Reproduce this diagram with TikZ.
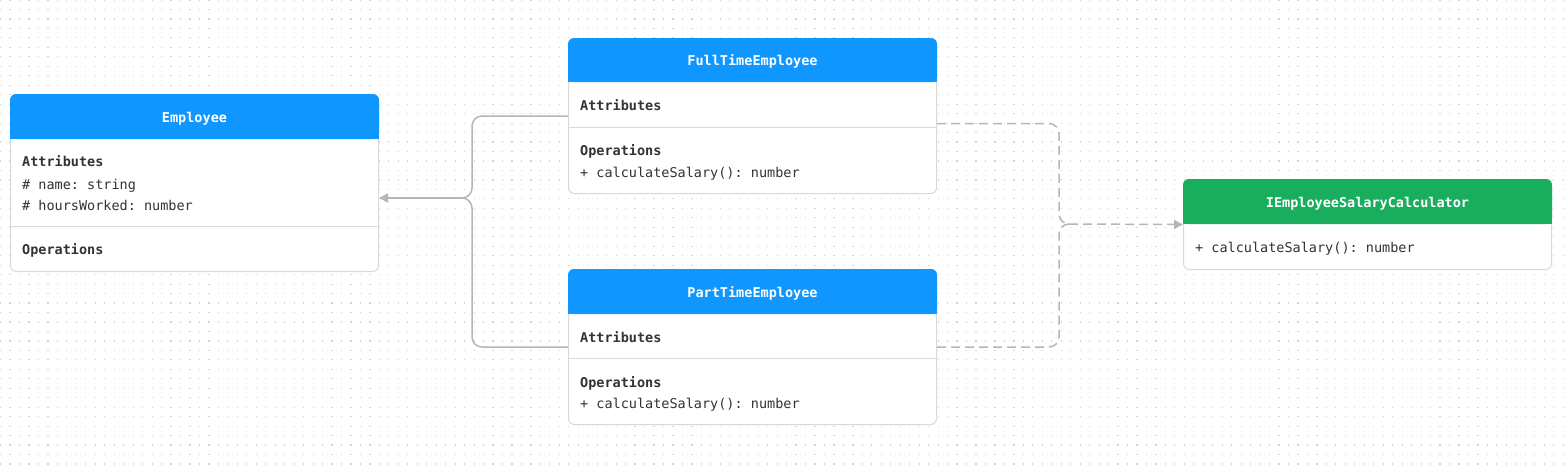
\documentclass[tikz,border=0pt]{standalone}
\usepackage{fontspec}
\setmonofont{DejaVu Sans Mono}
\usetikzlibrary{arrows.meta}
\definecolor{headblue}{RGB}{15,150,255}
\definecolor{headgreen}{RGB}{24,174,94}
\definecolor{boxline}{RGB}{217,217,217}
\definecolor{wire}{RGB}{182,182,182}
\definecolor{griddot}{RGB}{212,212,212}
\definecolor{txt}{RGB}{51,51,51}

\begin{document}
\begin{tikzpicture}[x=1pt,y=-1pt,
    classbox/.style={draw=boxline, fill=white, line width=1pt, rounded corners=6pt,
        anchor=north west, inner sep=0pt, minimum width=368pt},
    title/.style={text=white, inner sep=0pt, text height=13pt, text depth=2pt,
        font=\fontsize{13.5}{16}\selectfont\ttfamily\bfseries},
    section/.style={anchor=west, inner sep=0pt, text=txt, text height=13pt, text depth=2pt,
        font=\fontsize{13.5}{16}\selectfont\ttfamily\bfseries},
    member/.style={anchor=west, inner sep=0pt, text=txt, text height=13pt, text depth=2pt,
        font=\fontsize{13.5}{16}\selectfont\ttfamily},
    sepline/.style={draw=boxline, line width=1pt},
    dotrow/.style={draw=griddot, line width=1.2pt, dash pattern=on 1.2pt off 8.27pt},
    inherit/.style={draw=wire, line width=1.5pt, rounded corners=10pt},
    realize/.style={inherit, dash pattern=on 9pt off 5pt},
    tip/.style={-{Triangle[length=9pt,width=9pt]}}
]
    % Canvas and dotted grid
    \fill[white] (0,0) rectangle (1566,466);
    \useasboundingbox (0,0) rectangle (1566,466);
    \foreach \r in {0,...,49}
        \draw[dotrow] (0,{\r*9.47}) -- (1566,{\r*9.47});

    % Employee
    \node[classbox, minimum height=177pt] (emp) at (10,94) {};
    \fill[headblue, rounded corners=6pt] (emp.north west) rectangle ([yshift=-45pt]emp.north east);
    \fill[headblue] ([yshift=-35pt]emp.north west) rectangle ([yshift=-45pt]emp.north east);
    \node[title] (empT) at ([yshift=-22.5pt]emp.north) {Employee};
    \node[section] (empA) at (22,161) {Attributes};
    \node[member] (empA1) at (22,184) {\# name: string};
    \node[member] (empA2) at (22,205) {\# hoursWorked: number};
    \draw[sepline] (emp.west |- 0,226) -- (emp.east |- 0,226);
    \node[section] (empO) at (22,249) {Operations};

    % FullTimeEmployee
    \node[classbox, minimum height=155pt] (full) at (568,38) {};
    \fill[headblue, rounded corners=6pt] (full.north west) rectangle ([yshift=-44pt]full.north east);
    \fill[headblue] ([yshift=-34pt]full.north west) rectangle ([yshift=-44pt]full.north east);
    \node[title] (fullT) at ([yshift=-22pt]full.north) {FullTimeEmployee};
    \node[section] (fullA) at (580,105) {Attributes};
    \draw[sepline] (full.west |- 0,127) -- (full.east |- 0,127);
    \node[section] (fullO) at (580,150) {Operations};
    \node[member] (fullO1) at (580,172) {+ calculateSalary(): number};

    % PartTimeEmployee
    \node[classbox, minimum height=155pt] (part) at (568,269) {};
    \fill[headblue, rounded corners=6pt] (part.north west) rectangle ([yshift=-45pt]part.north east);
    \fill[headblue] ([yshift=-35pt]part.north west) rectangle ([yshift=-45pt]part.north east);
    \node[title] (partT) at ([yshift=-22.5pt]part.north) {PartTimeEmployee};
    \node[section] (partA) at (580,337) {Attributes};
    \draw[sepline] (part.west |- 0,358) -- (part.east |- 0,358);
    \node[section] (partO) at (580,382) {Operations};
    \node[member] (partO1) at (580,403) {+ calculateSalary(): number};

    % IEmployeeSalaryCalculator
    \node[classbox, minimum height=90pt] (iface) at (1183,179) {};
    \fill[headgreen, rounded corners=6pt] (iface.north west) rectangle ([yshift=-45pt]iface.north east);
    \fill[headgreen] ([yshift=-35pt]iface.north west) rectangle ([yshift=-45pt]iface.north east);
    \node[title] (ifaceT) at ([yshift=-22.5pt]iface.north) {IEmployeeSalaryCalculator};
    \node[member] (ifaceO1) at (1195,247) {+ calculateSalary(): number};

    % Inheritance
    \coordinate (junc) at (472,198);
    \draw[inherit] (full.west) -| (junc) -- ++(-10,0);
    \draw[inherit] (part.west) -| (junc) -- ++(-10,0);
    \draw[inherit, tip] ([xshift=-10pt]junc) -- (emp.east |- junc);

    % Realization
    \coordinate (djunc) at (1059,224);
    \draw[realize] ([yshift=-7.5pt]full.east) -| (djunc) -- ++(10,0);
    \draw[realize] (part.east) -| (djunc) -- ++(10,0);
    \draw[realize, tip] ([xshift=10pt]djunc) -- (iface.west);
\end{tikzpicture}
\end{document}
